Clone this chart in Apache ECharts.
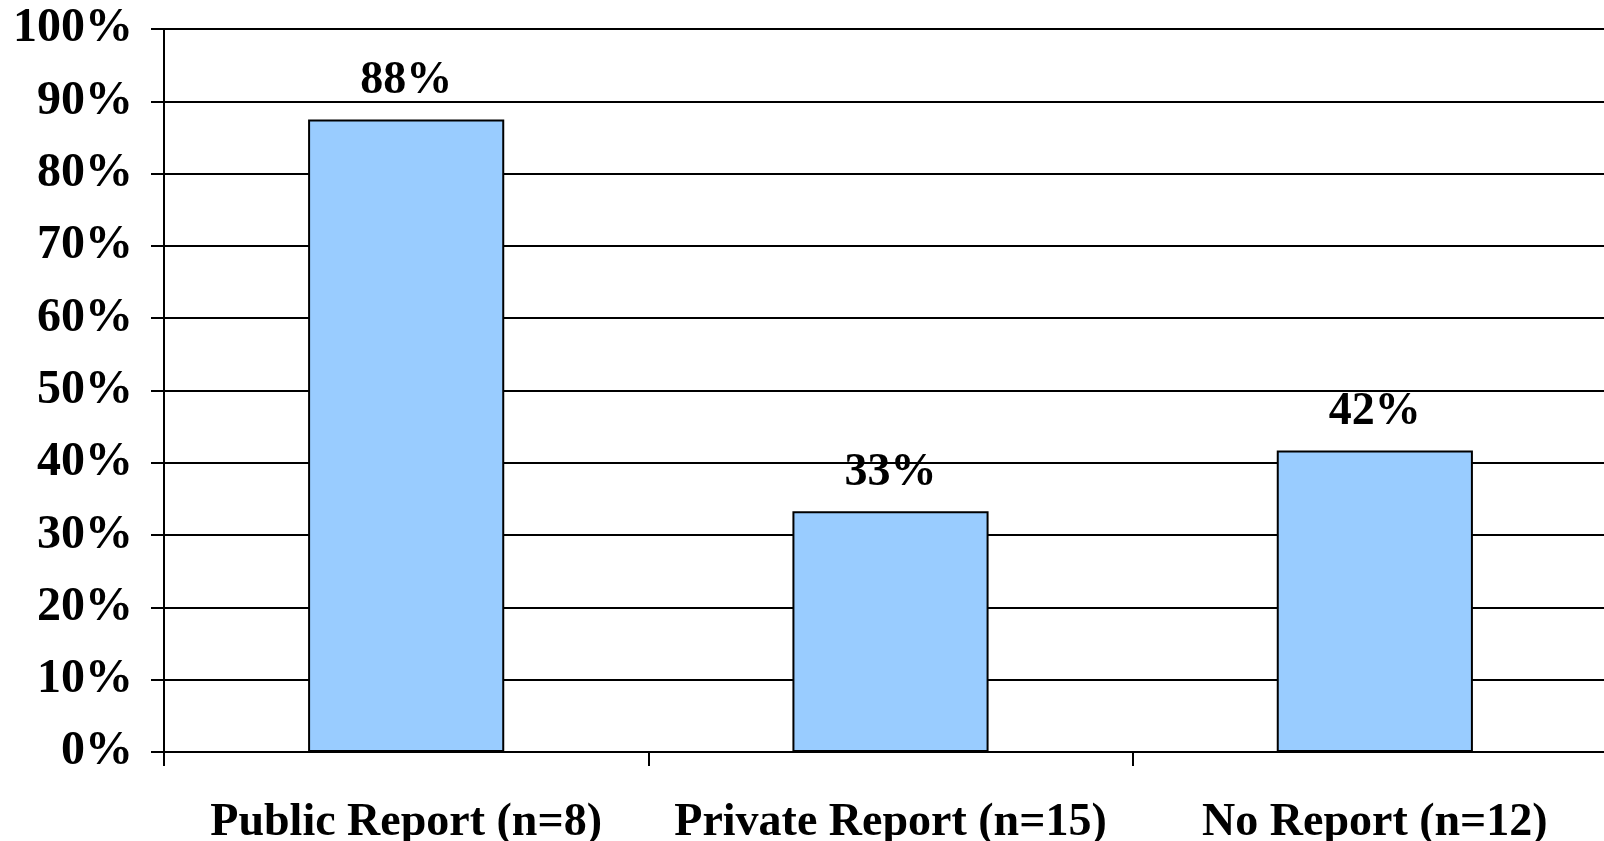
<!DOCTYPE html>
<html>
<head>
<meta charset="utf-8">
<script src="https://cdn.jsdelivr.net/npm/echarts@6/dist/echarts.min.js"></script>
<style>html,body{margin:0;padding:0;background:#fff}#c{width:1604px;height:841px}</style>
</head>
<body>
<div id="c"></div>
<script>
const categories = ['Public Report (n=8)', 'Private Report (n=15)', 'No Report (n=12)'];
const values = [87.5, 33.3, 41.7];
const yTicks = { min: 0, max: 100, interval: 10 };

const font = '"Liberation Serif", "Times New Roman", serif';
const chart = echarts.init(document.getElementById('c'));
chart.setOption({
  animation: false,
  backgroundColor: '#ffffff',
  grid: { left: 164, top: 29, width: 1453, height: 723, outerBoundsMode: 'none', containLabel: false },
  xAxis: {
    type: 'category',
    data: categories,
    boundaryGap: true,
    axisLine: { show: true, lineStyle: { color: '#000', width: 2 } },
    axisTick: { show: true, interval: 0, length: 14, lineStyle: { color: '#000', width: 2 } },
    axisLabel: { interval: 0, color: '#000', fontFamily: font, fontWeight: 'bold', fontSize: 46, margin: 48 },
    splitLine: { show: false }
  },
  yAxis: {
    type: 'value',
    min: yTicks.min, max: yTicks.max, interval: yTicks.interval,
    axisLine: { show: true, lineStyle: { color: '#000', width: 2 } },
    axisTick: { show: true, length: 13, inside: false, lineStyle: { color: '#000', width: 2 } },
    axisLabel: { color: '#000', fontFamily: font, fontWeight: 'bold', fontSize: 48, margin: 31, formatter: '{value}%' },
    splitLine: { show: true, lineStyle: { color: '#000', width: 2 } }
  },
  series: [{
    type: 'bar',
    data: values,
    barWidth: '40.5%',
    itemStyle: { color: '#99CCFF', borderColor: '#000', borderWidth: 2 },
    label: {
      show: true, position: 'top', distance: 15,
      color: '#000', fontFamily: font, fontWeight: 'bold', fontSize: 46,
      formatter: p => Math.round(p.value) + '%'
    }
  }]
});
</script>
</body>
</html>
